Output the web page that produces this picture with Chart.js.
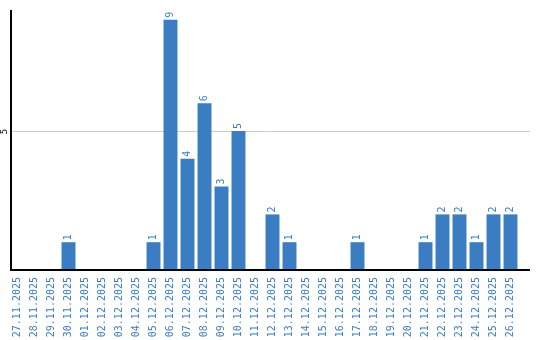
<!DOCTYPE html>
<html>
<head>
<meta charset="utf-8">
<script src="https://cdn.jsdelivr.net/npm/chart.js@4"></script>
<style>
  html, body { margin: 0; padding: 0; background: #fff; }
  #wrap { width: 540px; height: 340px; position: relative; }
</style>
</head>
<body>
<div id="wrap"><canvas id="chart"></canvas></div>
<script>
// ===== data =====
const days = ['27.11.2025','28.11.2025','29.11.2025','30.11.2025','01.12.2025','02.12.2025',
  '03.12.2025','04.12.2025','05.12.2025','06.12.2025','07.12.2025','08.12.2025','09.12.2025',
  '10.12.2025','11.12.2025','12.12.2025','13.12.2025','14.12.2025','15.12.2025','16.12.2025',
  '17.12.2025','18.12.2025','19.12.2025','20.12.2025','21.12.2025','22.12.2025','23.12.2025',
  '24.12.2025','25.12.2025','26.12.2025'];
const counts = [0,0,0,1,0,0,0,0,1,9,4,6,3,5,0,2,1,0,0,0,1,0,0,0,1,2,2,1,2,2];
const yTicks = [5];

const BLUE = '#3a7dc2';
const MONO = '"DejaVu Sans Mono", monospace';

// ===== axis lines, grid, y label, value labels =====
const decor = {
  id: 'decor',
  beforeDatasetsDraw(chart) {
    const { ctx, chartArea: a, scales: { y } } = chart;
    ctx.save();
    ctx.strokeStyle = '#cccccc';
    ctx.lineWidth = 1;
    yTicks.forEach(v => {
      const py = Math.round(y.getPixelForValue(v)) + 0.5;
      ctx.beginPath(); ctx.moveTo(11, py); ctx.lineTo(530, py); ctx.stroke();
      ctx.save();
      ctx.translate(5, py);
      ctx.rotate(-Math.PI / 2);
      ctx.fillStyle = '#000';
      ctx.font = '9px ' + MONO;
      ctx.textAlign = 'center';
      ctx.textBaseline = 'middle';
      ctx.fillText(String(v), 0, 0);
      ctx.restore();
    });
    ctx.restore();
  },
  afterDatasetsDraw(chart) {
    const { ctx, chartArea: a } = chart;
    ctx.save();
    ctx.strokeStyle = '#000';
    ctx.lineWidth = 2;
    ctx.beginPath();
    ctx.moveTo(11, a.top);
    ctx.lineTo(11, a.bottom);
    ctx.lineTo(530, a.bottom);
    ctx.stroke();

    const meta = chart.getDatasetMeta(0);
    ctx.fillStyle = BLUE;
    ctx.font = '10px ' + MONO;
    ctx.textAlign = 'left';
    ctx.textBaseline = 'middle';
    meta.data.forEach((bar, i) => {
      if (!counts[i]) return;
      ctx.save();
      ctx.translate(bar.x, bar.y - 2);
      ctx.rotate(-Math.PI / 2);
      ctx.fillText(String(counts[i]), 0, 0);
      ctx.restore();
    });
    ctx.restore();
  }
};

new Chart(document.getElementById('chart'), {
  type: 'bar',
  data: {
    labels: days,
    datasets: [{
      data: counts,
      backgroundColor: BLUE,
      borderWidth: 0,
      categoryPercentage: 1,
      barPercentage: 0.82
    }]
  },
  options: {
    responsive: true,
    maintainAspectRatio: false,
    animation: false,
    events: [],
    layout: { padding: { left: 0, right: 21, top: 10, bottom: 0 } },
    plugins: { legend: { display: false }, tooltip: { enabled: false } },
    scales: {
      x: {
        grid: { display: false, drawTicks: false },
        border: { display: false },
        afterFit: s => { s.height = 70; },
        ticks: {
          autoSkip: false,
          minRotation: 90,
          maxRotation: 90,
          padding: 7,
          color: BLUE,
          font: { family: MONO, size: 10 }
        }
      },
      y: {
        min: 0,
        max: 9.35,
        grid: { display: false },
        border: { display: false },
        ticks: { display: false },
        afterFit: s => { s.width = 9; }
      }
    }
  },
  plugins: [decor]
});
</script>
</body>
</html>
